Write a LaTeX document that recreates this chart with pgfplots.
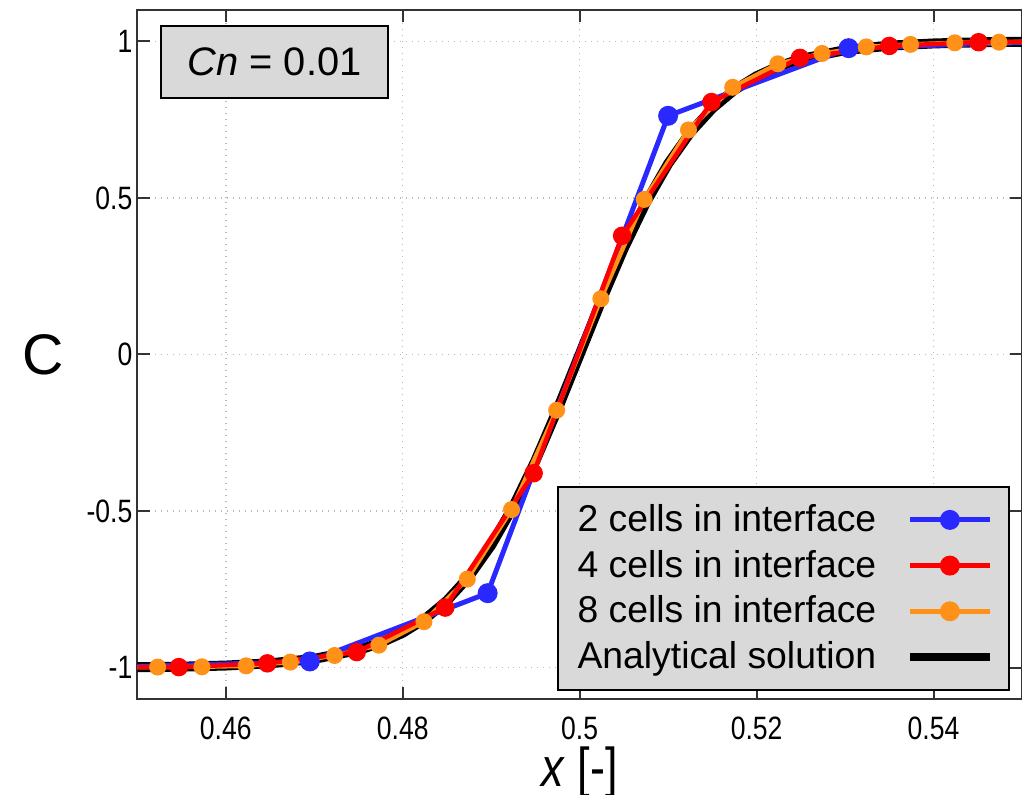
\documentclass[border=0pt]{standalone}
\usepackage{fontspec}
\setmainfont{Liberation Sans}
\newfontfamily\narrowfont[FakeStretch=0.82]{Liberation Sans}
\usepackage{pgfplots}
\pgfplotsset{compat=1.18}
\definecolor{cblue}{RGB}{40,40,255}
\definecolor{cred}{RGB}{255,0,0}
\definecolor{corange}{RGB}{255,145,25}
\definecolor{boxfill}{RGB}{217,217,217}
\definecolor{gridgray}{RGB}{185,185,185}

\begin{document}
\begin{tikzpicture}
\begin{axis}[
  scale only axis, width=355.6pt, height=277pt,
  xmin=0.45, xmax=0.55, ymin=-1.1, ymax=1.1,
  xtick={0.46,0.48,0.5,0.52,0.54}, ytick={-1,-0.5,0,0.5,1},
  tick align=inside, major tick length=5pt,
  grid=major, grid style={gridgray, dotted, line width=0.6pt},
  axis line style={line width=0.8pt, black!80},
  tick style={line width=0.8pt, black!80},
  tick label style={font=\narrowfont\fontsize{13}{15}\selectfont},
  xticklabel style={yshift=-3.5pt},
  yticklabel style={xshift=1.5pt},
  /pgf/number format/assume math mode=true,
  every axis x label/.style={at={(rel axis cs:0.5,0)}, yshift=-29.5pt, anchor=center},
  every axis y label/.style={at={(rel axis cs:0,0.5)}, xshift=-38pt, anchor=center},
  xlabel={\narrowfont\fontsize{22}{26}\selectfont\textit{x} [-]},
  ylabel={\fontsize{23}{28}\selectfont C},
  legend plot pos=right,
  legend image code/.code={\path (0pt,0pt); \draw[mark repeat=2, mark phase=2, #1] plot coordinates {(10pt,0pt) (26pt,0pt) (42pt,0pt)};},
  legend style={at={(0.986,0.012)}, anchor=south east, fill=boxfill, draw=black,
    line width=0.8pt, font=\fontsize{15}{18}\selectfont, legend cell align=left,
    inner xsep=6pt, inner ysep=5pt, row sep=2pt},
]
% analytical solution
\addplot[black, line width=4pt, forget plot] coordinates {
  (0.45,-0.9983) (0.455,-0.9966) (0.46,-0.9930) (0.465,-0.9860) (0.47,-0.9717)
  (0.475,-0.9434) (0.4775,-0.9203) (0.48,-0.8884) (0.4825,-0.8447) (0.485,-0.7859)
  (0.4875,-0.7084) (0.49,-0.6089) (0.4925,-0.4856) (0.495,-0.3396) (0.4975,-0.1750)
  (0.5,0) (0.5025,0.1750) (0.505,0.3396) (0.5075,0.4856) (0.51,0.6089)
  (0.5125,0.7084) (0.515,0.7859) (0.5175,0.8447) (0.52,0.8884) (0.5225,0.9203)
  (0.525,0.9434) (0.53,0.9717) (0.535,0.9860) (0.54,0.9930) (0.545,0.9966) (0.55,0.9983)};
% 2 cells
\addplot[cblue, line width=2pt, mark=*, mark size=3pt, forget plot] coordinates {
  (0.4492,-0.997) (0.4695,-0.980) (0.4896,-0.762) (0.5100,0.762) (0.5304,0.978) (0.5507,0.997)};
% 8 cells
\addplot[corange, line width=1.8pt, mark=*, mark size=2.5pt, forget plot] coordinates {
  (0.4474,-0.999) (0.4523,-0.998) (0.4573,-0.997) (0.4623,-0.994) (0.4673,-0.982)
  (0.4723,-0.961) (0.4773,-0.928) (0.4824,-0.853) (0.4873,-0.717) (0.4923,-0.495)
  (0.4974,-0.178) (0.5024,0.178) (0.5073,0.495) (0.5123,0.717) (0.5173,0.853)
  (0.5224,0.928) (0.5274,0.961) (0.5324,0.982) (0.5374,0.990) (0.5424,0.995)
  (0.5474,0.997) (0.5524,0.999)};
% 4 cells
\addplot[cred, line width=1.8pt, mark=*, mark size=2.8pt, forget plot] coordinates {
  (0.4448,-0.999) (0.4547,-0.998) (0.4647,-0.986) (0.4748,-0.950) (0.4848,-0.808)
  (0.4948,-0.379) (0.5048,0.379) (0.5149,0.806) (0.5249,0.947) (0.5350,0.985)
  (0.5451,0.997) (0.5551,0.999)};

\addlegendimage{cblue, line width=2pt, mark=*, mark size=3pt}
\addlegendentry{2 cells in interface}
\addlegendimage{cred, line width=2pt, mark=*, mark size=3pt}
\addlegendentry{4 cells in interface}
\addlegendimage{corange, line width=2pt, mark=*, mark size=3pt}
\addlegendentry{8 cells in interface}
\addlegendimage{black, line width=3.2pt}
\addlegendentry{Analytical solution}

\node[draw=black, line width=0.8pt, fill=boxfill, anchor=north west,
  minimum width=91pt, minimum height=29pt, inner sep=0pt,
  font=\fontsize{16}{19}\selectfont] at (rel axis cs:0.026,0.978) {\textit{Cn} = 0.01};
\end{axis}
\pgfresetboundingbox
\path (current axis.south west) ++(-55.2pt,-38.4pt) coordinate (bl);
\path (current axis.north east) ++(-2pt,4pt) coordinate (tr);
\useasboundingbox (bl) rectangle (tr);
\end{tikzpicture}
\end{document}
